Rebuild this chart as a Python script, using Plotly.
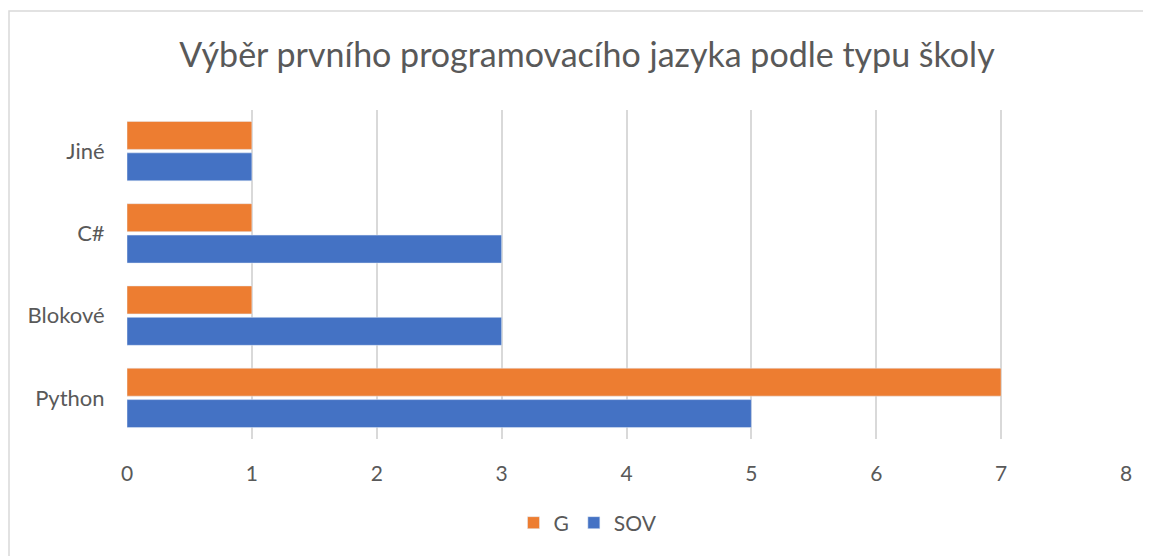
import plotly.graph_objects as go

categories = ["Python", "Blokové", "C#", "Jiné"]
sov_values = [5, 3, 3, 1]
g_values = [7, 1, 1, 1]
x_ticks = [0, 1, 2, 3, 4, 5, 6, 7, 8]

W, H = 1151, 556
OFF = 8  # page offset of the plot div
PL, PR, PT, PB = 127, 1126, 110, 439  # plot area in page pixels
L, R, T, B = PL - OFF, W + OFF - PR, PT - OFF, H + OFF - PB
pw, ph = W - L - R, H - T - B

fig = go.Figure()
fig.add_trace(go.Bar(y=categories, x=sov_values, orientation="h", name="SOV",
                     marker=dict(color="#4472C4")))
fig.add_trace(go.Bar(y=categories, x=g_values, orientation="h", name="G",
                     marker=dict(color="#ED7D31")))

font_family = "Lato, Open Sans, sans-serif"
fig.update_layout(
    width=W, height=H,
    margin=dict(l=L, r=R, t=T, b=B),
    paper_bgcolor="white", plot_bgcolor="white",
    barmode="group", bargap=0.236, bargroupgap=0.11,
    title=dict(text="Výběr prvního programovacího jazyka podle typu školy",
               x=(587 - OFF) / W, xanchor="center", y=1 - (55 - OFF) / H, yanchor="middle",
               font=dict(family=font_family, size=34, color="#595959")),
    legend=dict(orientation="h", x=(588 - PL) / pw, xanchor="center",
                y=(PB - 523) / ph, yanchor="middle", traceorder="reversed",
                font=dict(family=font_family, size=21, color="#595959"),
                itemwidth=30),
    xaxis=dict(range=[0, 8], tickvals=x_ticks, showgrid=True, gridcolor="#D9D9D9",
               gridwidth=1.5, zeroline=False, showline=False,
               ticks="outside", ticklen=16, tickcolor="rgba(0,0,0,0)",
               tickfont=dict(family=font_family, size=21, color="#595959"),
               fixedrange=True),
    yaxis=dict(categoryorder="array", categoryarray=categories, showgrid=False,
               zeroline=False, showline=False,
               ticks="outside", ticklen=17, tickcolor="rgba(0,0,0,0)",
               tickfont=dict(family=font_family, size=22, color="#595959"),
               fixedrange=True),
    showlegend=True,
)
fig.add_shape(type="rect", xref="paper", yref="paper",
              x0=(9 - PL) / pw, x1=(1200 - PL) / pw, y0=(PB - 620) / ph, y1=(PB - 11) / ph,
              line=dict(color="#D9D9D9", width=1.5), fillcolor="rgba(0,0,0,0)", layer="below")

fig.write_html("out.html")
